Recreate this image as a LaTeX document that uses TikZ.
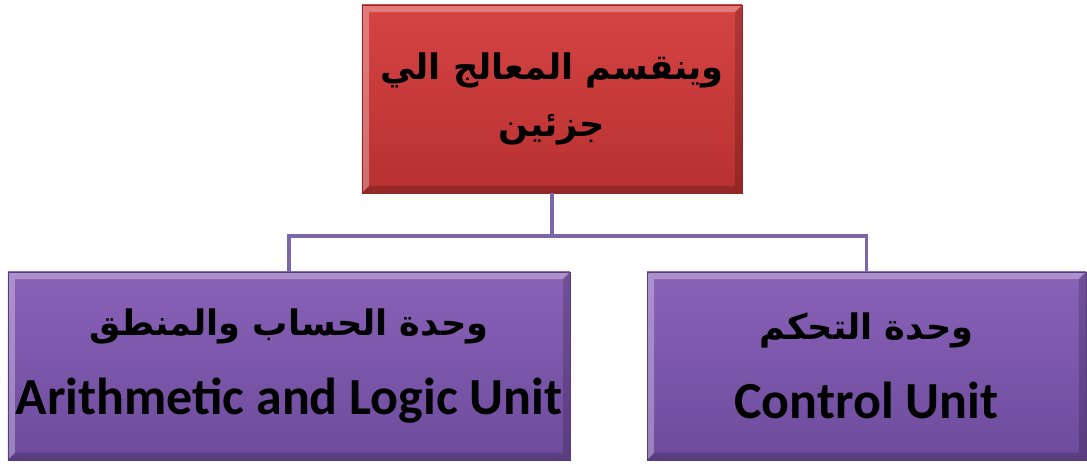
\documentclass[tikz,border=0pt]{standalone}
\usepackage{fontspec}
\setmainfont{Carlito}
\newfontfamily\arabicfont[Script=Arabic]{DejaVu Sans}
\TeXXeTstate=1
\definecolor{cpured}{HTML}{D64444}
\definecolor{cpureddark}{HTML}{B83030}
\definecolor{unittop}{HTML}{8A62B8}
\definecolor{unitbottom}{HTML}{6C4B9C}
\definecolor{linkviolet}{HTML}{7A66AA}
\tikzset{
  bevel/.style={path picture={
      \coordinate (bnw) at (path picture bounding box.north west);
      \coordinate (bne) at (path picture bounding box.north east);
      \coordinate (bsw) at (path picture bounding box.south west);
      \coordinate (bse) at (path picture bounding box.south east);
      \fill[white,opacity=.3] (bnw) -- (bne) -- ([xshift=-5pt,yshift=-5pt]bne)
        -- ([xshift=5pt,yshift=-5pt]bnw) -- ([xshift=5pt,yshift=5pt]bsw) -- (bsw) -- cycle;
      \fill[black,opacity=.18] (bse) -- (bne) -- ([xshift=-5pt,yshift=-5pt]bne)
        -- ([xshift=-5pt,yshift=5pt]bse) -- ([xshift=5pt,yshift=5pt]bsw) -- (bsw) -- cycle;
  }},
  headbox/.style={bevel, draw=cpureddark!80!black, top color=cpured, bottom color=cpureddark,
      inner sep=0pt, minimum width=9.5cm, minimum height=4.7cm, align=center,
      font=\arabicfont\bfseries\fontsize{25}{40}\selectfont},
  unitbox/.style={bevel, draw=unitbottom!80!black, top color=unittop, bottom color=unitbottom,
      inner sep=0pt, minimum height=4.7cm, align=center, font=\bfseries\fontsize{37}{40}\selectfont},
  link/.style={draw=linkviolet, line width=2.2pt},
}
\begin{document}
\begin{tikzpicture}[x=0.025cm,y=-0.025cm]
  \useasboundingbox (0,0) rectangle (1087,464);
  % processor and its two parts
  \node[headbox] (cpu) at (552,99) {\beginR وينقسم المعالج الي\endR\\ \beginR جزئين\endR};
  \node[unitbox, minimum width=14.05cm] (alu) at (289,366)
    {{\arabicfont\fontsize{25}{40}\selectfont\beginR وحدة الحساب والمنطق\endR}\\[16pt] Arithmetic and Logic Unit};
  \node[unitbox, minimum width=10.97cm] (cu) at (866.5,366)
    {{\arabicfont\fontsize{25}{40}\selectfont\beginR وحدة التحكم\endR}\\[16pt] Control Unit};
  % connectors
  \coordinate (bus) at (552,236);
  \draw[link] (cpu.south) -- (bus);
  \draw[link] (bus) -| (alu.north);
  \draw[link] (bus) -| (cu.north);
\end{tikzpicture}
\end{document}
